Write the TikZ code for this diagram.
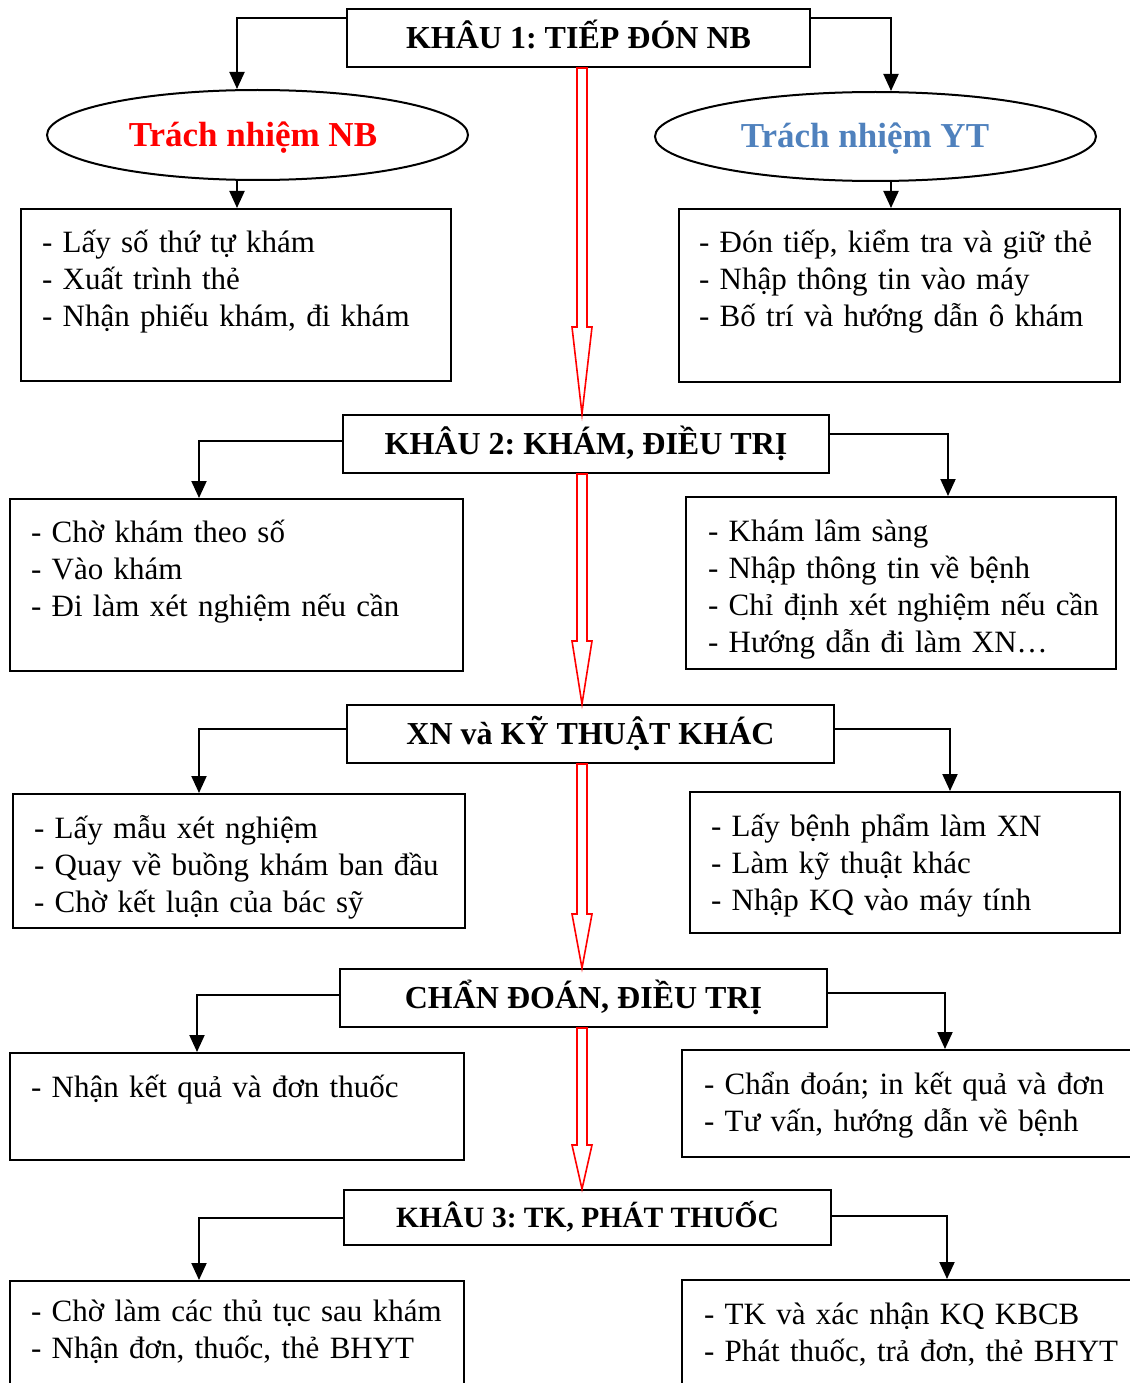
\documentclass[tikz,border=0pt]{standalone}
\usepackage{fontspec}
\setmainfont{Liberation Serif}
\usepackage{xcolor}
\usetikzlibrary{calc,arrows.meta,shapes.geometric}
\definecolor{nbred}{HTML}{FF0000}
\definecolor{ytblue}{HTML}{4F81BD}
\tikzset{
  stage/.style={draw, line width=2pt, inner sep=0pt, minimum height=58pt, text height=21pt, text depth=0pt,
    font=\frenchspacing\bfseries\fontsize{32}{37}\selectfont},
  duty/.style={draw, ellipse, line width=2pt, inner sep=0pt, text height=23pt, text depth=0pt,
    font=\frenchspacing\bfseries\fontsize{35}{40}\selectfont},
  task/.style={draw, line width=2pt, anchor=north west, align=left, inner ysep=0pt, inner xsep=21pt,
    font=\frenchspacing\fontsize{31}{37}\selectfont,
    execute at begin node={\rightskip=-80pt plus 1fil\relax}},
  conn/.style={-{Triangle[width=15pt,length=17pt]}, line width=2pt},
  redarrow/.style={draw=nbred, line width=1.6pt, line join=miter}
}
% block arrow: from, to, head length
\newcommand{\flowarrow}[3]{%
  \draw[redarrow] let \p1=(#1), \p2=(#2) in
    (\x1-5pt,\y1) -- (\x1-5pt,\y2+#3pt) -- (\x1-10pt,\y2+#3pt) -- (\x1,\y2)
    -- (\x1+10pt,\y2+#3pt) -- (\x1+5pt,\y2+#3pt) -- (\x1+5pt,\y1) -- cycle;}

\begin{document}
\begin{tikzpicture}[x=1pt,y=-1pt]
  \useasboundingbox (0,0) rectangle (1129,1383);
  \coordinate (spine) at (582,0);

  % khau 1
  \node[stage, minimum width=463pt] (h1) at (578.5,38) {KHÂU 1: TIẾP ĐÓN NB};
  \node[duty, text=nbred, minimum width=421pt, minimum height=90pt] (nb) at (257.5,135) {\hspace*{-9pt}Trách nhiệm NB};
  \node[duty, text=ytblue, minimum width=441pt, minimum height=89pt] (yt) at (875.5,136.5) {\hspace*{-21pt}Trách nhiệm YT};
  \node[task, text width=388pt, text height=43pt, text depth=129pt] (nb1) at (20,208)
    {- Lấy số thứ tự khám\\- Xuất trình thẻ\\- Nhận phiếu khám, đi khám};
  \node[task, inner xsep=20pt, text width=401pt, text height=43pt, text depth=130pt] (yt1) at (678,208)
    {- Đón tiếp, kiểm tra và giữ thẻ\\- Nhập thông tin vào máy\\- Bố trí và hướng dẫn ô khám};

  \draw[conn] ([yshift=20pt]h1.west) -| ([xshift=-20.5pt]nb.north);
  \draw[conn] ([yshift=20pt]h1.east) -| ([xshift=15.5pt]yt.north);
  \draw[conn] ([xshift=-20.5pt]nb.south) -- ([xshift=-20.5pt]nb.south |- nb1.north);
  \draw[conn] ([xshift=15.5pt]yt.south) -- ([xshift=15.5pt]yt.south |- yt1.north);

  % khau 2
  \node[stage, minimum width=486pt] (h2) at (586,444) {KHÂU 2: KHÁM, ĐIỀU TRỊ};
  \node[task, text width=411pt, text height=43pt, text depth=129pt] (l2) at (9,498)
    {- Chờ khám theo số\\- Vào khám\\- Đi làm xét nghiệm nếu cần};
  \node[task, inner xsep=22pt, text width=386pt, text height=44pt, text depth=128pt] (r2) at (685,496)
    {- Khám lâm sàng\\- Nhập thông tin về bệnh\\- Chỉ định xét nghiệm nếu cần\\- Hướng dẫn đi làm XN…};
  \draw[conn] ([yshift=3pt]h2.west) -| ([xshift=-37.5pt]l2.north);
  \draw[conn] ([yshift=10pt]h2.east) -| ([xshift=47pt]r2.north);

  % xet nghiem
  \node[stage, minimum width=487pt] (h3) at (590.5,734) {XN và KỸ THUẬT KHÁC};
  \node[task, text width=410pt, text height=44pt, text depth=90pt] (l3) at (12,793)
    {- Lấy mẫu xét nghiệm\\- Quay về buồng khám ban đầu\\- Chờ kết luận của bác sỹ};
  \node[task, text width=388pt, text height=44pt, text depth=97pt] (r3) at (689,791)
    {- Lấy bệnh phẩm làm XN\\- Làm kỹ thuật khác\\- Nhập KQ vào máy tính};
  \draw[conn] ([yshift=5pt]h3.west) -| ([xshift=-40pt]l3.north);
  \draw[conn] ([yshift=5pt]h3.east) -| ([xshift=45pt]r3.north);

  % chan doan
  \node[stage, minimum width=487pt] (h4) at (583.5,998) {CHẨN ĐOÁN, ĐIỀU TRỊ};
  \node[task, text width=412pt, text height=44pt, text depth=63pt] (l4) at (9,1052)
    {- Nhận kết quả và đơn thuốc};
  \node[task, inner xsep=22pt, text width=426pt, text height=44pt, text depth=63pt] (r4) at (681,1049)
    {- Chẩn đoán; in kết quả và đơn\\- Tư vấn, hướng dẫn về bệnh};
  \draw[conn] ([yshift=3pt]h4.west) -| ([xshift=-40pt]l4.north);
  \draw[conn] ([yshift=5pt]h4.east) -| ([xshift=28pt]r4.north);

  % khau 3
  \node[stage, minimum width=487pt, minimum height=55pt, text height=19.5pt,
    font=\frenchspacing\bfseries\fontsize{29.5}{34}\selectfont] (h5) at (587.5,1217.5) {KHÂU 3: TK, PHÁT THUỐC};
  \node[task, text width=412pt, text height=40pt, text depth=90pt] (l5) at (9,1280)
    {- Chờ làm các thủ tục sau khám\\- Nhận đơn, thuốc, thẻ BHYT};
  \node[task, inner xsep=22pt, text width=426pt, text height=44pt, text depth=86pt] (r5) at (681,1279)
    {- TK và xác nhận KQ KBCB\\- Phát thuốc, trả đơn, thẻ BHYT};
  \draw[conn] (h5.west) -| ([xshift=-38pt]l5.north);
  \draw[conn] ([yshift=1.5pt]h5.east) -| ([xshift=30pt]r5.north);

  % red flow down the middle
  \flowarrow{h1.south -| spine}{h2.north -| spine}{87}
  \flowarrow{h2.south -| spine}{h3.north -| spine}{63}
  \flowarrow{h3.south -| spine}{h4.north -| spine}{54}
  \flowarrow{h4.south -| spine}{h5.north -| spine}{44}
\end{tikzpicture}
\end{document}
